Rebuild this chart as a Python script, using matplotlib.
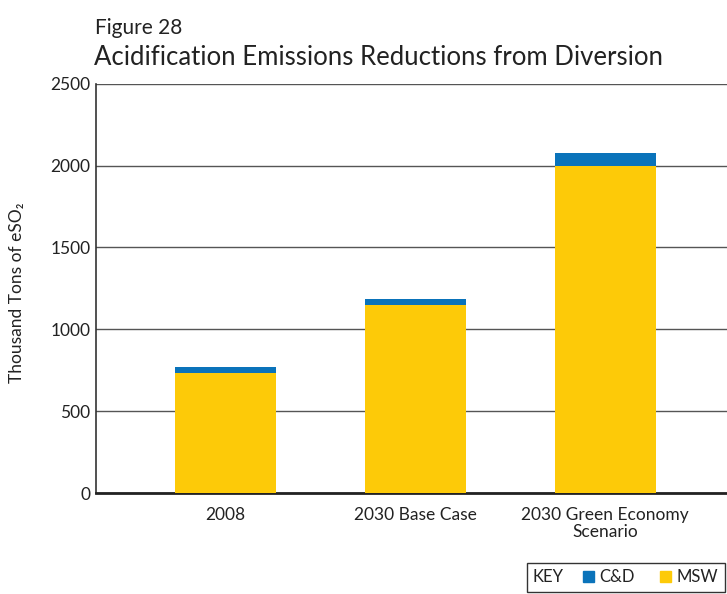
import matplotlib
matplotlib.use("Agg")
import matplotlib.pyplot as plt
from matplotlib.patches import Rectangle
import numpy as np

plt.rcParams['font.family'] = ['Lato', 'DejaVu Sans']

# data (thousand tons eSO2)
categories = ["2008", "2030 Base Case", "2030 Green Economy\nScenario"]
msw = [733, 1149, 1995]
cd = [37, 37, 83]

yellow = "#FDCA08"
blue = "#0A73BA"

fig = plt.figure(figsize=(7.27, 5.94), dpi=100)
ax = fig.add_axes([0.132, 0.170, 0.868, 0.689])

x = np.arange(len(categories))
ax.bar(x, msw, width=0.53, color=yellow, zorder=3)
ax.bar(x, cd, width=0.53, bottom=msw, color=blue, zorder=3)

ax.set_xlim(-0.68, 2.64)
ax.set_ylim(0, 2500)
ax.set_yticks([0, 500, 1000, 1500, 2000, 2500])
ax.set_xticks(x)
ax.set_xticklabels(categories, fontsize=12.8, linespacing=1.05)
ax.tick_params(axis='both', length=0, labelsize=12.5, colors="#222222")
ax.tick_params(axis='y', pad=4)
ax.tick_params(axis='x', pad=10)
ax.yaxis.grid(True, color="#555555", lw=1, zorder=0)
for s in ["top", "right"]:
    ax.spines[s].set_visible(False)
ax.spines["left"].set_color("#333333")
ax.spines["left"].set_linewidth(1.2)
ax.spines["bottom"].set_color("#222222")
ax.spines["bottom"].set_linewidth(2)
ax.set_ylabel("Thousand Tons of eSO₂", fontsize=12.5, color="#222222")
ax.yaxis.set_label_coords(-0.113, 0.49)

fig.text(0.131, 0.970, "Figure 28", fontsize=15, va="top", color="#222222")
fig.text(0.129, 0.925, "Acidification Emissions Reductions from Diversion", fontsize=18.5,
         va="top", color="#222222")

# key box
fig.patches.append(Rectangle((0.725, 0.004), 0.272, 0.048, transform=fig.transFigure,
                             fill=False, edgecolor="#333333", lw=1))
fig.text(0.733, 0.028, "KEY", fontsize=12, va="center", color="#222222")
fig.patches.append(Rectangle((0.802, 0.020), 0.015, 0.018, transform=fig.transFigure,
                             color=blue))
fig.text(0.824, 0.028, "C&D", fontsize=12, va="center", color="#222222")
fig.patches.append(Rectangle((0.908, 0.020), 0.015, 0.018, transform=fig.transFigure,
                             color=yellow))
fig.text(0.930, 0.028, "MSW", fontsize=12, va="center", color="#222222")

fig.savefig("out.png", dpi=100)
